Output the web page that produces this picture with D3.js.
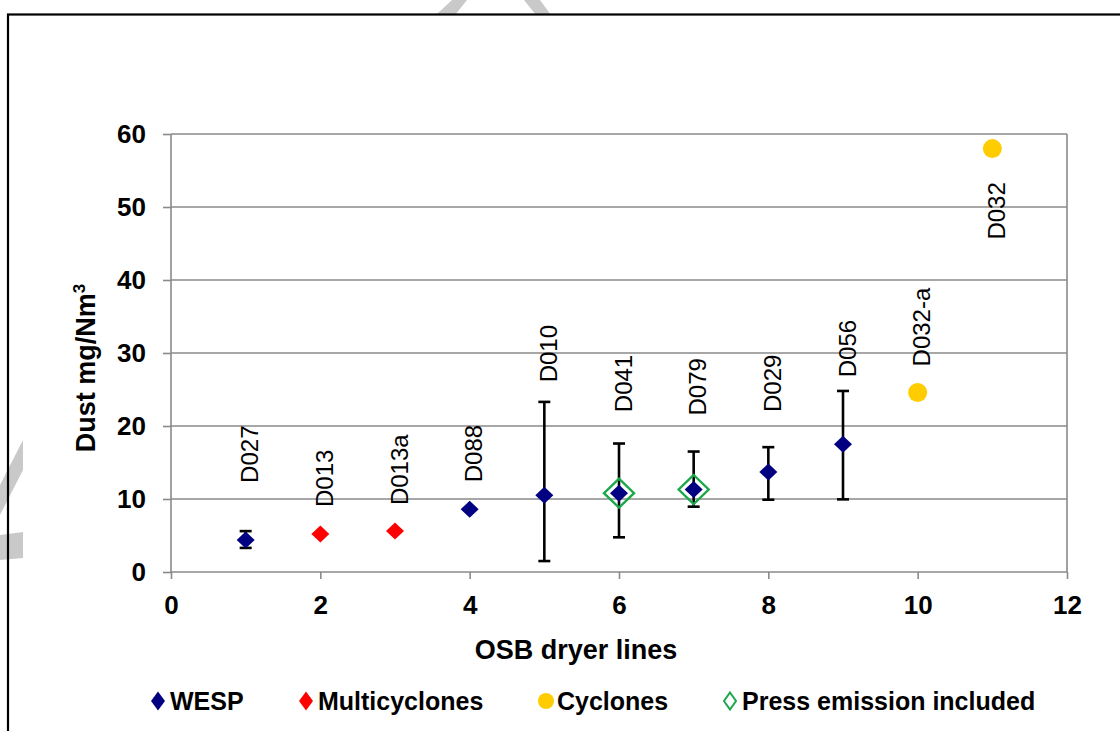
<!DOCTYPE html>
<html>
<head>
<meta charset="utf-8">
<script src="https://cdn.jsdelivr.net/npm/d3@7/dist/d3.min.js"></script>
<style>
  html, body { margin: 0; padding: 0; background: #fff; }
  svg { display: block; font-family: "Liberation Sans", Arial, sans-serif; }
</style>
</head>
<body>
<svg id="chart" width="1120" height="731"></svg>
<script>
// Dust emissions measured on OSB dryer lines
const lineNumber = [1, 2, 3, 4, 5, 6, 7, 8, 9, 10, 11];
const lineIds = ["D027", "D013", "D013a", "D088", "D010", "D041", "D079", "D029", "D056", "D032-a", "D032"];
const abatement = ["WESP", "Multicyclones", "Multicyclones", "WESP", "WESP", "WESP", "WESP", "WESP", "WESP", "Cyclones", "Cyclones"];
const dust = [4.4, 5.2, 5.6, 8.6, 10.5, 10.8, 11.3, 13.7, 17.5, 24.6, 58.0];
const dustMin = [3.3, null, null, null, 1.5, 4.75, 8.95, 9.9, 9.95, null, null];
const dustMax = [5.6, null, null, null, 23.3, 17.6, 16.5, 17.1, 24.8, null, null];
const pressIncluded = [false, false, false, false, false, true, true, false, false, false, false];

const xTicks = [0, 2, 4, 6, 8, 10, 12];
const yTicks = [0, 10, 20, 30, 40, 50, 60];
const legendItems = ["WESP", "Multicyclones", "Cyclones", "Press emission included"];

// ---- layout ----
const plot = { left: 171, right: 1067, top: 134, bottom: 572 };
const colors = { WESP: "#000080", Multicyclones: "#FF0000", Cyclones: "#FFCC00", press: "#1BA84B" };
const grid = "#8a8a8a";
// vertical offset (px) of each rotated label's start from its marker
const labelShift = [-57, -27, -26, -27, -113, -81, -74, -60, -67, -26, 91];

const svg = d3.select("#chart");

// watermark strokes around the frame
const wm = svg.append("g").attr("fill", "#c9c9c9");
[
  [[436, 15], [455, 15], [467, 0], [452, 0]],
  [[524, 0], [540, 0], [551, 15], [536, 15]],
  [[23, 440], [23, 470], [0, 515], [0, 485]],
  [[0, 535], [23, 532], [23, 558], [0, 560]]
].forEach(p => wm.append("polygon").attr("points", p.map(d => d.join(",")).join(" ")));

// frame
svg.append("rect")
  .attr("x", 8).attr("y", 14.5).attr("width", 1200).attr("height", 800)
  .attr("fill", "none").attr("stroke", "#000").attr("stroke-width", 2.2);

const x = d3.scaleLinear().domain([0, 12]).range([plot.left, plot.right]);
const y = d3.scaleLinear().domain([0, 60]).range([plot.bottom, plot.top]);

// gridlines
svg.append("g").selectAll("line").data(yTicks.filter(v => v > 0)).join("line")
  .attr("x1", plot.left).attr("x2", plot.right)
  .attr("y1", d => y(d)).attr("y2", d => y(d))
  .attr("stroke", grid).attr("stroke-width", 1.6);

// right border of plot area
svg.append("line")
  .attr("x1", plot.right).attr("x2", plot.right)
  .attr("y1", plot.top).attr("y2", plot.bottom)
  .attr("stroke", grid).attr("stroke-width", 1.6);

// axes
const yAxis = svg.append("g")
  .attr("transform", `translate(${plot.left},0)`)
  .call(d3.axisLeft(y).tickValues(yTicks).tickSize(8).tickPadding(17));
const xAxis = svg.append("g")
  .attr("transform", `translate(0,${plot.bottom})`)
  .call(d3.axisBottom(x).tickValues(xTicks).tickSize(7).tickPadding(17));
[yAxis, xAxis].forEach(a => {
  a.select(".domain").attr("stroke", grid).attr("stroke-width", 1.6);
  a.selectAll(".tick line").attr("stroke", grid).attr("stroke-width", 1.6);
  a.selectAll(".tick text")
    .attr("font-family", "'Liberation Sans', Arial, sans-serif")
    .attr("font-size", 26).attr("font-weight", "bold").attr("fill", "#000");
});
yAxis.select(".domain").attr("d", `M0,${plot.top}V${plot.bottom}`);
xAxis.select(".domain").attr("d", `M${plot.left},0H${plot.right}`);

// axis titles
svg.append("text")
  .attr("x", (plot.left + plot.right) / 2 - 43).attr("y", 659)
  .attr("text-anchor", "middle").attr("font-size", 27).attr("font-weight", "bold")
  .text("OSB dryer lines");

const yTitle = svg.append("text")
  .attr("transform", "translate(95,368) rotate(-90)")
  .attr("text-anchor", "middle").attr("font-size", 27).attr("font-weight", "bold");
yTitle.append("tspan").text("Dust mg/Nm");
yTitle.append("tspan").attr("font-size", 17).attr("dy", -10).text("3");

const rows = lineNumber.map((n, i) => ({
  n, id: lineIds[i], kind: abatement[i], v: dust[i],
  lo: dustMin[i], hi: dustMax[i], press: pressIncluded[i], shift: labelShift[i]
}));

// error bars
const bars = svg.append("g").attr("stroke", "#000").attr("stroke-width", 2.6)
  .selectAll("g").data(rows.filter(d => d.lo != null)).join("g");
bars.append("line")
  .attr("x1", d => x(d.n)).attr("x2", d => x(d.n))
  .attr("y1", d => y(d.lo)).attr("y2", d => y(d.hi));
bars.append("line")
  .attr("x1", d => x(d.n) - 6).attr("x2", d => x(d.n) + 6)
  .attr("y1", d => y(d.lo)).attr("y2", d => y(d.lo));
bars.append("line")
  .attr("x1", d => x(d.n) - 6).attr("x2", d => x(d.n) + 6)
  .attr("y1", d => y(d.hi)).attr("y2", d => y(d.hi));

const diamond = (cx, cy, w, h) =>
  `M${cx},${cy - h / 2}L${cx + w / 2},${cy}L${cx},${cy + h / 2}L${cx - w / 2},${cy}Z`;

// markers
const marks = svg.append("g");
rows.forEach(d => {
  if (d.kind === "Cyclones") {
    marks.append("circle").attr("cx", x(d.n)).attr("cy", y(d.v)).attr("r", 9.5)
      .attr("fill", colors.Cyclones);
  } else {
    marks.append("path").attr("d", diamond(x(d.n), y(d.v), 18, 17))
      .attr("fill", colors[d.kind]);
  }
});
rows.filter(d => d.press).forEach(d => {
  marks.append("path").attr("d", diamond(x(d.n), y(d.v), 30, 29))
    .attr("fill", "none").attr("stroke", colors.press).attr("stroke-width", 2.4);
});

// rotated line labels
svg.append("g").selectAll("text").data(rows).join("text")
  .attr("transform", d => `translate(${x(d.n) + 4},${y(d.v) + d.shift}) rotate(-90)`)
  .attr("dy", "0.36em")
  .attr("font-size", 24)
  .text(d => d.id);

// legend
const legendX = [158, 306, 546, 730];
const legend = svg.append("g").attr("transform", "translate(0,701)");
legendItems.forEach((name, i) => {
  const cx = legendX[i];
  if (name === "Cyclones") {
    legend.append("circle").attr("cx", cx).attr("cy", 0).attr("r", 8).attr("fill", colors.Cyclones);
  } else if (name === "Press emission included") {
    legend.append("path").attr("d", diamond(cx, 0, 12, 17))
      .attr("fill", "none").attr("stroke", colors.press).attr("stroke-width", 2);
  } else {
    legend.append("path").attr("d", diamond(cx, 0, 14, 19)).attr("fill", colors[name]);
  }
  legend.append("text")
    .attr("x", cx + (name === "Cyclones" ? 11 : 12)).attr("y", 0).attr("dy", "0.36em")
    .attr("font-size", 25).attr("font-weight", "bold")
    .text(name);
});
</script>
</body>
</html>
